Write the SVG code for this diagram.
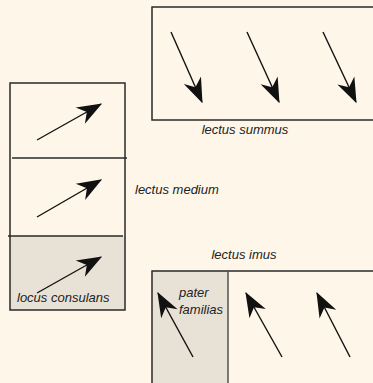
<svg xmlns="http://www.w3.org/2000/svg" width="373" height="383" viewBox="0 0 373 383">
<style>
.box{fill:none;stroke:#2a2a2a;stroke-width:1.5}
.gray{fill:#e8e1d6;stroke:none}
.div{stroke:#2a2a2a;stroke-width:1.5}
.arr{stroke:#111;stroke-width:1.4;fill:none;marker-end:url(#ah)}
text{font-family:"Liberation Sans",Arial,sans-serif;font-style:italic;font-size:13px;fill:#222}
</style>
<defs>
<marker id="ah" markerUnits="userSpaceOnUse" markerWidth="30" markerHeight="30" viewBox="-22 -10 24 20" refX="0" refY="0" orient="auto">
<path d="M1,0 L-19,-7.5 L-13,0 L-19,7.5 Z" fill="#111"/>
</marker>
</defs>
<rect width="373" height="383" fill="#fef7e9"/>
<g id="lectus-medium">
<rect class="gray" x="10" y="236" width="115" height="74"/>
<rect class="box" x="10" y="83" width="115" height="227"/>
<line class="div" x1="12" y1="158" x2="127" y2="158"/>
<line class="div" x1="8" y1="236" x2="123" y2="236"/>
<text x="135" y="194">lectus medium</text>
<text x="17" y="302">locus consulans</text>
</g>
<g id="lectus-summus">
<rect class="box" x="152" y="7" width="225" height="113"/>
<text x="245" y="134" text-anchor="middle">lectus summus</text>
</g>
<g id="lectus-imus">
<rect class="gray" x="152" y="271" width="76" height="120"/>
<rect class="box" x="152" y="271" width="225" height="120"/>
<line x1="228" y1="271" x2="228" y2="383" stroke="#55504a" stroke-width="1.5"/>
<text x="244" y="259" text-anchor="middle">lectus imus</text>
<text x="179" y="297">pater</text>
<text x="179" y="314">familias</text>
</g>
<g id="connectors">
<line class="arr" x1="37" y1="140" x2="101" y2="104"/>
<line class="arr" x1="37" y1="217" x2="101" y2="180"/>
<line class="arr" x1="37" y1="293" x2="101" y2="257"/>
<line class="arr" x1="171" y1="32" x2="202" y2="102"/>
<line class="arr" x1="247" y1="32" x2="279" y2="102"/>
<line class="arr" x1="323" y1="32" x2="356" y2="102"/>
<line class="arr" x1="193" y1="357" x2="158" y2="293"/>
<line class="arr" x1="282" y1="357" x2="246" y2="293"/>
<line class="arr" x1="350" y1="357" x2="317" y2="293"/>
</g>
</svg>
